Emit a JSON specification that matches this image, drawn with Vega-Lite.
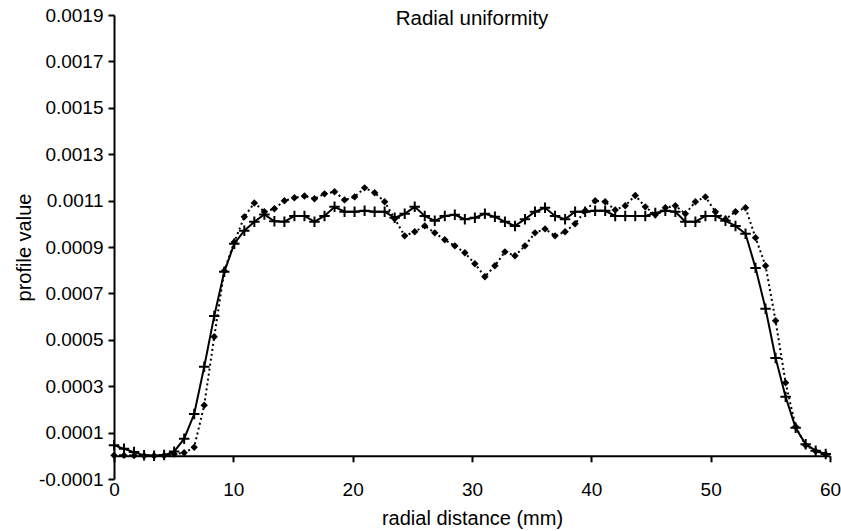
{
  "$schema": "https://vega.github.io/schema/vega-lite/v6.json",
  "width": 716,
  "height": 464,
  "autosize": {"type": "none"},
  "padding": {"left": 114, "top": 15, "right": 11, "bottom": 52},
  "background": "white",
  "config": {"view": {"stroke": null}, "font": "Liberation Sans"},
  "title": {"text": "Radial uniformity", "anchor": "middle", "fontSize": 20.5, "fontWeight": "normal", "font": "Liberation Sans", "color": "black", "offset": -33, "baseline": "middle"},
  "data": {"values": [
    {"r":0,"v":0.000046,"s":"plus"},{"r":0.84,"v":0.000030,"s":"plus"},{"r":1.68,"v":0.000016,"s":"plus"},{"r":2.52,"v":0.000002,"s":"plus"},{"r":3.36,"v":0.0,"s":"plus"},{"r":4.2,"v":0.000003,"s":"plus"},{"r":5.04,"v":0.000018,"s":"plus"},{"r":5.88,"v":0.000074,"s":"plus"},{"r":6.72,"v":0.000180,"s":"plus"},{"r":7.56,"v":0.000384,"s":"plus"},
    {"r":8.4,"v":0.000603,"s":"plus"},{"r":9.24,"v":0.000793,"s":"plus"},{"r":10.08,"v":0.000914,"s":"plus"},{"r":10.92,"v":0.000970,"s":"plus"},{"r":11.76,"v":0.001009,"s":"plus"},{"r":12.6,"v":0.001040,"s":"plus"},{"r":13.44,"v":0.001011,"s":"plus"},{"r":14.28,"v":0.001009,"s":"plus"},{"r":15.12,"v":0.001034,"s":"plus"},{"r":15.96,"v":0.001034,"s":"plus"},
    {"r":16.8,"v":0.001009,"s":"plus"},{"r":17.64,"v":0.001034,"s":"plus"},{"r":18.48,"v":0.001073,"s":"plus"},{"r":19.32,"v":0.001052,"s":"plus"},{"r":20.16,"v":0.001052,"s":"plus"},{"r":21,"v":0.001056,"s":"plus"},{"r":21.84,"v":0.001052,"s":"plus"},{"r":22.68,"v":0.001052,"s":"plus"},{"r":23.52,"v":0.001026,"s":"plus"},{"r":24.36,"v":0.001043,"s":"plus"},
    {"r":25.2,"v":0.001073,"s":"plus"},{"r":26.04,"v":0.001034,"s":"plus"},{"r":26.88,"v":0.001013,"s":"plus"},{"r":27.72,"v":0.001034,"s":"plus"},{"r":28.56,"v":0.001039,"s":"plus"},{"r":29.4,"v":0.001020,"s":"plus"},{"r":30.24,"v":0.001026,"s":"plus"},{"r":31.08,"v":0.001043,"s":"plus"},{"r":31.92,"v":0.001030,"s":"plus"},{"r":32.76,"v":0.001009,"s":"plus"},
    {"r":33.6,"v":0.000991,"s":"plus"},{"r":34.44,"v":0.001020,"s":"plus"},{"r":35.28,"v":0.001052,"s":"plus"},{"r":36.12,"v":0.001069,"s":"plus"},{"r":36.96,"v":0.001034,"s":"plus"},{"r":37.8,"v":0.001020,"s":"plus"},{"r":38.64,"v":0.001052,"s":"plus"},{"r":39.48,"v":0.001052,"s":"plus"},{"r":40.32,"v":0.001056,"s":"plus"},{"r":41.16,"v":0.001056,"s":"plus"},
    {"r":42,"v":0.001034,"s":"plus"},{"r":42.84,"v":0.001034,"s":"plus"},{"r":43.68,"v":0.001034,"s":"plus"},{"r":44.52,"v":0.001034,"s":"plus"},{"r":45.36,"v":0.001047,"s":"plus"},{"r":46.2,"v":0.001056,"s":"plus"},{"r":47.04,"v":0.001052,"s":"plus"},{"r":47.88,"v":0.001009,"s":"plus"},{"r":48.72,"v":0.001009,"s":"plus"},{"r":49.56,"v":0.001034,"s":"plus"},
    {"r":50.4,"v":0.001034,"s":"plus"},{"r":51.24,"v":0.001013,"s":"plus"},{"r":52.08,"v":0.000991,"s":"plus"},{"r":52.92,"v":0.000957,"s":"plus"},{"r":53.76,"v":0.000810,"s":"plus"},{"r":54.6,"v":0.000634,"s":"plus"},{"r":55.44,"v":0.000422,"s":"plus"},{"r":56.28,"v":0.000254,"s":"plus"},{"r":57.12,"v":0.000121,"s":"plus"},{"r":57.96,"v":0.000050,"s":"plus"},
    {"r":58.8,"v":0.000022,"s":"plus"},{"r":59.64,"v":0.000008,"s":"plus"},
    {"r":0,"v":0.000002,"s":"diamond"},{"r":0.84,"v":0.000002,"s":"diamond"},{"r":1.68,"v":0.000001,"s":"diamond"},{"r":2.52,"v":0.0,"s":"diamond"},{"r":3.36,"v":0.0,"s":"diamond"},{"r":4.2,"v":0.000001,"s":"diamond"},{"r":5.04,"v":0.000008,"s":"diamond"},{"r":5.88,"v":0.000013,"s":"diamond"},{"r":6.72,"v":0.000037,"s":"diamond"},{"r":7.56,"v":0.000218,"s":"diamond"},
    {"r":8.4,"v":0.000513,"s":"diamond"},{"r":9.24,"v":0.000797,"s":"diamond"},{"r":10.08,"v":0.000922,"s":"diamond"},{"r":10.92,"v":0.001030,"s":"diamond"},{"r":11.76,"v":0.001090,"s":"diamond"},{"r":12.6,"v":0.001052,"s":"diamond"},{"r":13.44,"v":0.001065,"s":"diamond"},{"r":14.28,"v":0.001099,"s":"diamond"},{"r":15.12,"v":0.001112,"s":"diamond"},{"r":15.96,"v":0.001120,"s":"diamond"},
    {"r":16.8,"v":0.001108,"s":"diamond"},{"r":17.64,"v":0.001129,"s":"diamond"},{"r":18.48,"v":0.001138,"s":"diamond"},{"r":19.32,"v":0.001103,"s":"diamond"},{"r":20.16,"v":0.001116,"s":"diamond"},{"r":21,"v":0.001155,"s":"diamond"},{"r":21.84,"v":0.001134,"s":"diamond"},{"r":22.68,"v":0.001095,"s":"diamond"},{"r":23.52,"v":0.001022,"s":"diamond"},{"r":24.36,"v":0.000948,"s":"diamond"},
    {"r":25.2,"v":0.000966,"s":"diamond"},{"r":26.04,"v":0.000991,"s":"diamond"},{"r":26.88,"v":0.000961,"s":"diamond"},{"r":27.72,"v":0.000931,"s":"diamond"},{"r":28.56,"v":0.000905,"s":"diamond"},{"r":29.4,"v":0.000875,"s":"diamond"},{"r":30.24,"v":0.000828,"s":"diamond"},{"r":31.08,"v":0.000772,"s":"diamond"},{"r":31.92,"v":0.000819,"s":"diamond"},{"r":32.76,"v":0.000879,"s":"diamond"},
    {"r":33.6,"v":0.000862,"s":"diamond"},{"r":34.44,"v":0.000905,"s":"diamond"},{"r":35.28,"v":0.000961,"s":"diamond"},{"r":36.12,"v":0.000978,"s":"diamond"},{"r":36.96,"v":0.000948,"s":"diamond"},{"r":37.8,"v":0.000966,"s":"diamond"},{"r":38.64,"v":0.001000,"s":"diamond"},{"r":39.48,"v":0.001056,"s":"diamond"},{"r":40.32,"v":0.001099,"s":"diamond"},{"r":41.16,"v":0.001095,"s":"diamond"},
    {"r":42,"v":0.001060,"s":"diamond"},{"r":42.84,"v":0.001078,"s":"diamond"},{"r":43.68,"v":0.001122,"s":"diamond"},{"r":44.52,"v":0.001073,"s":"diamond"},{"r":45.36,"v":0.001039,"s":"diamond"},{"r":46.2,"v":0.001069,"s":"diamond"},{"r":47.04,"v":0.001078,"s":"diamond"},{"r":47.88,"v":0.001043,"s":"diamond"},{"r":48.72,"v":0.001095,"s":"diamond"},{"r":49.56,"v":0.001116,"s":"diamond"},
    {"r":50.4,"v":0.001052,"s":"diamond"},{"r":51.24,"v":0.001020,"s":"diamond"},{"r":52.08,"v":0.001052,"s":"diamond"},{"r":52.92,"v":0.001069,"s":"diamond"},{"r":53.76,"v":0.000940,"s":"diamond"},{"r":54.6,"v":0.000819,"s":"diamond"},{"r":55.44,"v":0.000582,"s":"diamond"},{"r":56.28,"v":0.000315,"s":"diamond"},{"r":57.12,"v":0.000125,"s":"diamond"},{"r":57.96,"v":0.000045,"s":"diamond"},
    {"r":58.8,"v":0.000020,"s":"diamond"},{"r":59.64,"v":0.000006,"s":"diamond"}
  ]},
  "encoding": {
    "x": {"field": "r", "type": "quantitative",
      "scale": {"domain": [0, 60], "nice": false, "zero": false},
      "axis": {"title": "radial distance (mm)", "values": [0, 10, 20, 30, 40, 50, 60], "offset": -23.2, "grid": false,
        "domainColor": "black", "domainWidth": 2, "tickColor": "black", "tickWidth": 2, "tickSize": 6,
        "labelFlush": false, "labelPadding": 19, "labelFontSize": 19, "labelColor": "black", "labelFont": "Liberation Sans",
        "titleFontSize": 20, "titleFontWeight": "normal", "titleColor": "black", "titleFont": "Liberation Sans", "titleY": 63, "titleBaseline": "middle"}},
    "y": {"field": "v", "type": "quantitative",
      "scale": {"domain": [-0.0001, 0.0019], "nice": false, "zero": false},
      "axis": {"title": "profile value", "values": [-0.0001, 0.0001, 0.0003, 0.0005, 0.0007, 0.0009, 0.0011, 0.0013, 0.0015, 0.0017, 0.0019],
        "labelExpr": "datum.value < 0 ? '-' + format(-datum.value, '.4f') : format(datum.value, '.4f')",
        "grid": false, "domainColor": "black", "domainWidth": 2, "tickColor": "black", "tickWidth": 2, "tickSize": 6,
        "labelFlush": false, "labelPadding": 5, "labelFontSize": 19, "labelColor": "black", "labelFont": "Liberation Sans",
        "titleFontSize": 20, "titleFontWeight": "normal", "titleColor": "black", "titleFont": "Liberation Sans", "titleX": -90, "titleBaseline": "middle"}}
  },
  "layer": [
    {"transform": [{"filter": "datum.s == 'plus'"}], "mark": {"type": "line", "color": "black", "strokeWidth": 2}},
    {"transform": [{"filter": "datum.s == 'diamond'"}], "mark": {"type": "line", "color": "black", "strokeWidth": 2, "strokeDash": [2, 3]}},
    {"transform": [{"filter": "datum.s == 'plus'"}], "mark": {"type": "point", "shape": "M-1,0L1,0M0,-1L0,1", "filled": false, "stroke": "black", "strokeWidth": 2, "size": 110, "opacity": 1}},
    {"transform": [{"filter": "datum.s == 'diamond'"}], "mark": {"type": "point", "shape": "diamond", "filled": true, "fill": "black", "size": 55, "opacity": 1}}
  ]
}
